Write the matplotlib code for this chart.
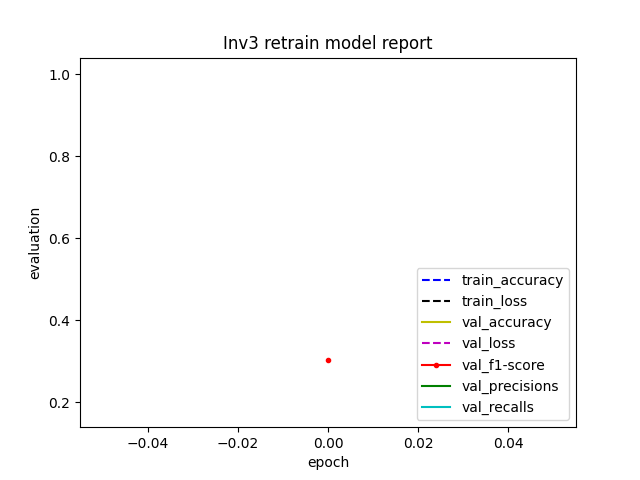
import matplotlib
matplotlib.use("Agg")
import matplotlib.pyplot as plt

# only one epoch was logged, so every series is a single point
epochs = [0]
train_accuracy = [0.62]
train_loss = [1.0]
val_accuracy = [0.55]
val_loss = [0.18]
val_f1_score = [0.304]
val_precisions = [0.40]
val_recalls = [0.33]

fig, ax = plt.subplots(figsize=(6.4, 4.8), dpi=100)
ax.plot(epochs, train_accuracy, "b--", label="train_accuracy")
ax.plot(epochs, train_loss, "k--", label="train_loss")
ax.plot(epochs, val_accuracy, "y-", label="val_accuracy")
ax.plot(epochs, val_loss, "m--", label="val_loss")
ax.plot(epochs, val_f1_score, "r.-", label="val_f1-score")
ax.plot(epochs, val_precisions, "g-", label="val_precisions")
ax.plot(epochs, val_recalls, "c-", label="val_recalls")

ax.set_title("Inv3 retrain model report")
ax.set_xlabel("epoch")
ax.set_ylabel("evaluation")
ax.legend(loc="lower right")

fig.savefig("out.png")
